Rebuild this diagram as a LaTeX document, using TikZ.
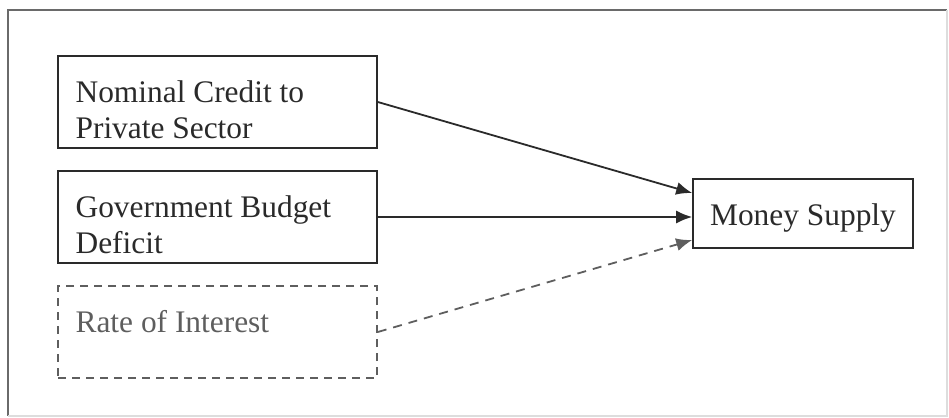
\documentclass[tikz,border=0pt]{standalone}
\usepackage{fontspec}
\setmainfont{Liberation Serif}
\usetikzlibrary{arrows.meta}
\definecolor{ink}{HTML}{2A2A2A}
\definecolor{faint}{HTML}{5E5E5E}
\definecolor{frame}{HTML}{6A6A6A}
\definecolor{pale}{HTML}{DDDDDD}
\tikzset{
  box/.style={draw=ink, line width=0.8pt, inner sep=0pt, minimum width=159.5pt, minimum height=46pt},
  dashbox/.style={box, draw=faint, dash pattern=on 4pt off 3pt},
  txt/.style={inner sep=0pt, anchor=north west, align=left, text=ink},
  arr/.style={draw=ink, line width=0.9pt, -{Latex[length=8pt,width=6.5pt]}}
}
\begin{document}
\begin{tikzpicture}[x=0.5pt,y=-0.5pt,font=\fontsize{15.7}{18}\selectfont]
\useasboundingbox (0,0) rectangle (949,418);
\draw[frame, line width=0.8pt] (8,416) -- (8,10) -- (947,10);
\draw[pale, line width=0.8pt] (947,10) -- (947,416) -- (8,416);
% sources
\node[box] (credit) at (217.5,102) {};
\node[txt] (credit text) at ([xshift=9pt,yshift=-12.4pt]credit.north west) {Nominal Credit to\\Private Sector};
\node[box] (deficit) at (217.5,217) {};
\node[txt] (deficit text) at ([xshift=9pt,yshift=-12.4pt]deficit.north west) {Government Budget\\Deficit};
\node[dashbox] (interest) at (217.5,332) {};
\node[txt, text=faint] (interest text) at ([xshift=9pt,yshift=-12.4pt]interest.north west) {Rate of Interest};
% target
\node[box, minimum width=110pt, minimum height=34.5pt] (money) at (803,213.5) {};
\node[txt, anchor=north] (money text) at ([yshift=-12.4pt]money.north) {Money Supply};
% links
\draw[arr] (credit.east) -- ([yshift=10.25pt]money.west);
\draw[arr] (deficit.east) -- (deficit.east -| money.west);
\draw[arr, draw=faint, dash pattern=on 4.5pt off 3.5pt] (interest.east) -- ([yshift=-13.25pt]money.west);
\end{tikzpicture}
\end{document}
